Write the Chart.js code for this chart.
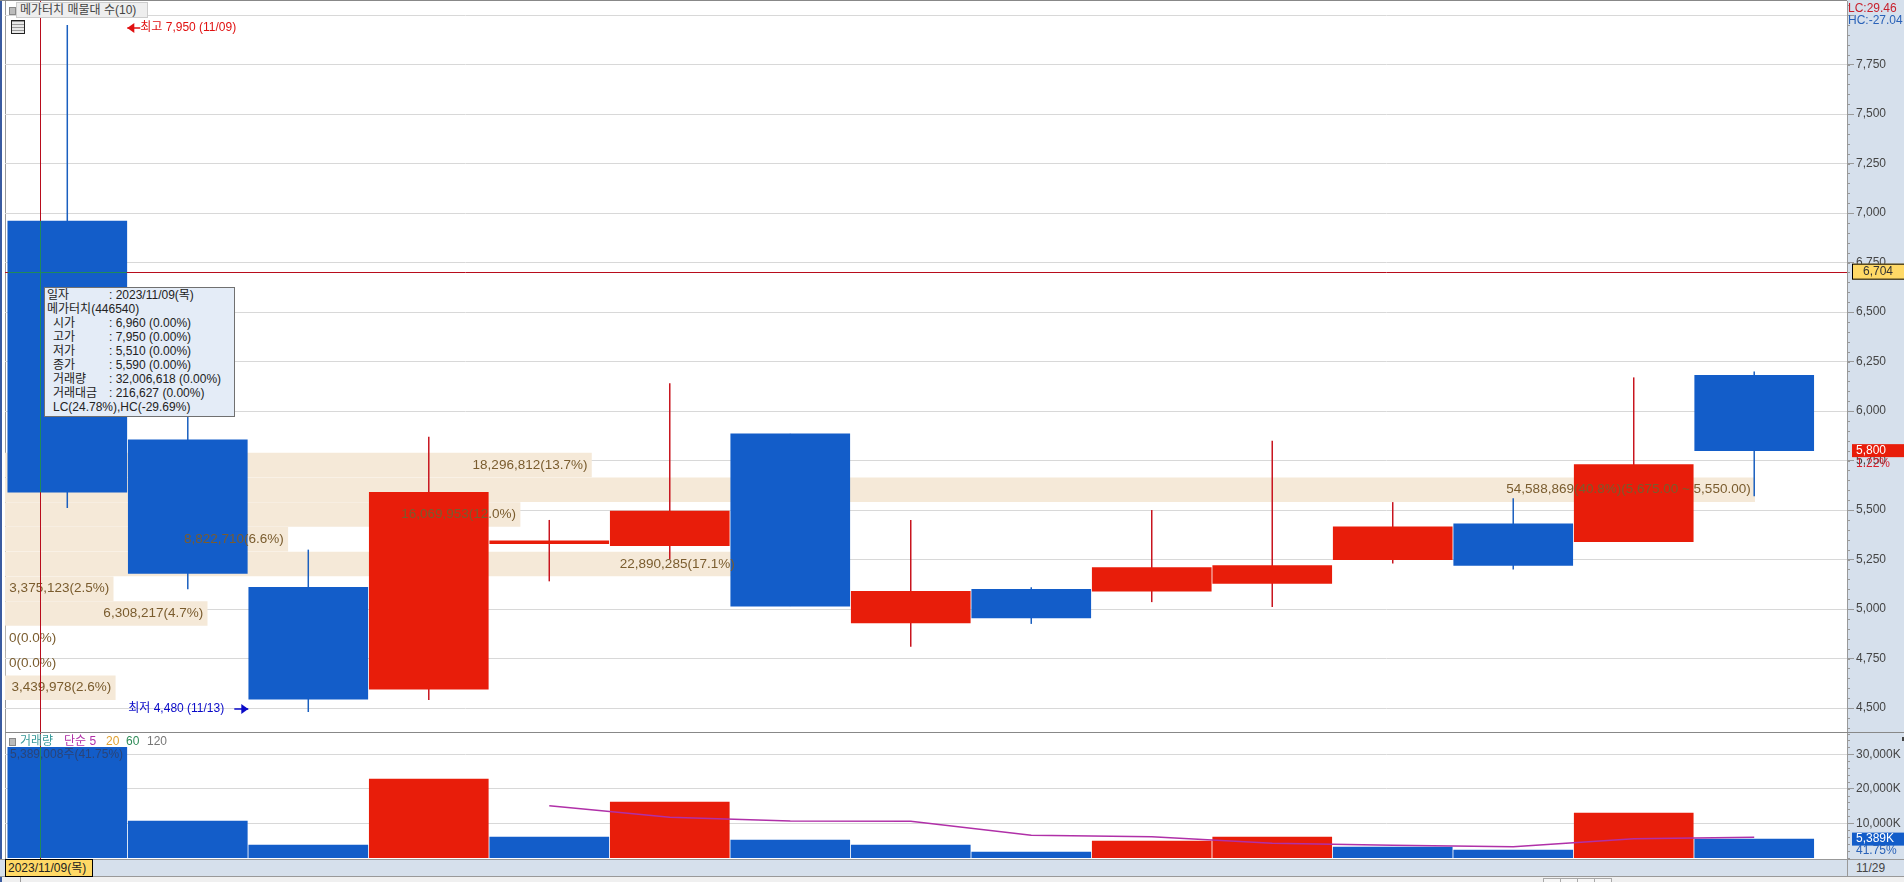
<!DOCTYPE html>
<html lang="ko">
<head>
  <title>메가터치 매물대 수</title>
  <meta charset="utf-8">
  <script src="https://cdn.jsdelivr.net/npm/chart.js"></script>
  <style>
    html, body { margin: 0; padding: 0; background: #f0f0f0; overflow: hidden; }
    body, .t { font: 12px "Liberation Sans", "Noto Sans CJK KR", sans-serif; }
    #page { position: relative; width: 1904px; height: 882px; overflow: hidden; }
    #page div, #page canvas { position: absolute; }
    .t { white-space: nowrap; line-height: 14px; }
    .btn { top: 878px; width: 16px; height: 8px; background: #f6f6f6; border: 1px solid #aaa; }
    #tip { left: 44px; top: 287px; width: 189px; height: 128px; background: #e4ecf7; border: 1px solid #707070; color: #222; }
    #tip .t { position: absolute; left: 2px; }
    #tip span { display: inline-block; width: 62px; }
    #tip .in { left: 8px; }
    #tip .in span { width: 56px; }
  </style>
</head>
<body>
<div id="page">
  <div style="left:0;top:0;width:1904px;height:877px;background:#fff"></div>
  <div style="left:0;top:0;width:2px;height:882px;background:#3a5ba0"></div>
  <div style="left:5px;top:0;width:1px;height:877px;background:#999"></div>
  <div style="left:0;top:0;width:1904px;height:1px;background:#888"></div>
  <div style="left:1847px;top:0;width:57px;height:877px;background:#d6e0ec"></div>
  <div style="left:0;top:859px;width:1904px;height:18px;background:#d6e0ec;border-top:1px solid #999;border-bottom:1px solid #999;box-sizing:border-box"></div>
  <div style="left:1847px;top:859px;width:1px;height:18px;background:#999"></div>
  <div style="left:20px;top:877px;width:1px;height:5px;background:#999"></div>
  <div class="btn" style="left:1543px"></div>
  <div class="btn" style="left:1560px"></div>
  <div class="btn" style="left:1577px"></div>
  <div class="btn" style="left:1594px"></div>

  <canvas id="price-chart" width="1899" height="731" style="left:5px;top:1px"></canvas>
  <canvas id="volume-chart" width="1899" height="126" style="left:5px;top:733px"></canvas>
  <div style="left:5px;top:732px;width:1899px;height:1px;background:#888"></div>

  <div style="left:9px;top:7px;width:5px;height:6px;background:#bbb;border:1px solid #888"></div>
  <div class="t" style="left:16px;top:2px;height:14px;width:130px;background:#eee;border:1px solid #ccc;color:#444;text-indent:3px">메가터치 매물대 수(10)</div>
  <div style="left:11px;top:20px;width:12px;height:12px;border:1px solid #222;background:repeating-linear-gradient(#999 0 1px,#e8e8e8 1px 3px)"></div>

  <div class="t" style="left:1848px;top:1px;color:#c8202c">LC:29.46</div>
  <div class="t" style="left:1848px;top:13px;color:#2a62b8">HC:-27.04</div>

  <div style="left:9px;top:738px;width:5px;height:6px;background:#bbb;border:1px solid #888"></div>
  <div class="t" style="left:20px;top:734px;color:#3a9a9a">거래량</div>
  <div class="t" style="left:64px;top:734px;color:#b030a8">단순 5</div>
  <div class="t" style="left:106px;top:734px;color:#e0a030">20</div>
  <div class="t" style="left:126px;top:734px;color:#2e8b57">60</div>
  <div class="t" style="left:147px;top:734px;color:#777">120</div>
  <div class="t" style="left:10px;top:747px;color:#2a4478">5,389,008주(41.75%)</div>

  <div class="t" style="left:5px;top:859px;width:86px;height:16px;background:#ffd966;border:1px solid #000;line-height:16px;text-indent:2px;color:#222">2023/11/09(목)</div>
  <div class="t" style="left:1856px;top:861px;color:#444">11/29</div>
  <div style="left:1902px;top:737px;width:2px;height:4px;background:#444"></div>

  <div id="tip">
    <div class="t" style="top:0"><span>일자</span>: 2023/11/09(목)</div>
    <div class="t" style="top:14px">메가터치(446540)</div>
    <div class="t in" style="top:28px"><span>시가</span>: 6,960 (0.00%)</div>
    <div class="t in" style="top:42px"><span>고가</span>: 7,950 (0.00%)</div>
    <div class="t in" style="top:56px"><span>저가</span>: 5,510 (0.00%)</div>
    <div class="t in" style="top:70px"><span>종가</span>: 5,590 (0.00%)</div>
    <div class="t in" style="top:84px"><span>거래량</span>: 32,006,618 (0.00%)</div>
    <div class="t in" style="top:98px"><span>거래대금</span>: 216,627 (0.00%)</div>
    <div class="t in" style="top:112px">LC(24.78%),HC(-29.69%)</div>
  </div>
</div>
<script>
  const dates = ['11/09', '11/10', '11/13', '11/14', '11/15', '11/16', '11/17', '11/20', '11/21', '11/22', '11/23', '11/24', '11/27', '11/28', '11/29'];
  const opens = [6960, 5855, 5110, 4595, 5330, 5320, 5885, 4930, 5100, 5090, 5130, 5250, 5430, 5340, 6180];
  const closes = [5590, 5180, 4545, 5590, 5345, 5495, 5015, 5090, 4955, 5210, 5220, 5415, 5220, 5730, 5800];
  const highs = [7950, 6000, 5300, 5870, 5450, 6140, 5885, 5450, 5110, 5500, 5850, 5540, 5560, 6170, 6200];
  const lows = [5510, 5100, 4480, 4540, 5140, 5250, 5015, 4810, 4925, 5035, 5010, 5230, 5200, 5340, 5570];
  const volumes = [32006, 10640, 3680, 22810, 6000, 16145, 5130, 3680, 1650, 4840, 6000, 3100, 2230, 12950, 5389];
  const ma5 = [null, null, null, null, 15030, 11710, 10640, 10550, 6490, 6090, 4170, 3590, 3190, 5500, 5910];

  const bandEdges = [5790, 5665, 5540, 5415, 5290, 5165, 5040, 4915, 4790, 4665, 4540];
  const bandVolumes = [18296812, 54588869, 16069953, 8822710, 22890285, 3375123, 6308217, 0, 0, 3439978];
  const bandPercents = ['13.7', '40.8', '12.0', '6.6', '17.1', '2.5', '4.7', '0.0', '0.0', '2.6'];

  const priceTicks = [8000, 7750, 7500, 7250, 7000, 6750, 6500, 6250, 6000, 5750, 5500, 5250, 5000, 4750, 4500];
  const volumeTicks = [30000, 20000, 10000];
  const crossPrice = 6704;
  const crossIndex = -0.227;

  const RED = '#e81d0a', BLUE = '#135dc9';
  const FONT = '12px "Liberation Sans", "Noto Sans CJK KR", sans-serif';
  const BAND_FONT = '13.5px "Liberation Sans", "Noto Sans CJK KR", sans-serif';
  const indexes = dates.map((d, i) => i);
  const xScale = () => ({ type: 'linear', display: false, offset: false, grid: { offset: false }, min: -0.517, max: 14.77 });

  function axisStyle(ticks, label) {
    return {
      position: 'right',
      offset: false,
      afterFit: (s) => { s.width = 57; s.paddingTop = 0; s.paddingBottom = 0; },
      afterBuildTicks: (s) => { s.ticks = ticks.map(value => ({ value })); },
      border: { color: '#999' },
      grid: { offset: false, color: '#d8d8d8', tickColor: '#999', tickLength: 7 },
      ticks: { autoSkip: false, padding: 2, color: '#444', font: { family: '"Liberation Sans", sans-serif', size: 12 }, callback: label }
    };
  }

  function minorTicks(chart, scale, step) {
    const { ctx } = chart;
    ctx.save();
    ctx.lineWidth = 1;
    ctx.strokeStyle = '#999';
    ctx.beginPath();
    for (let v = Math.ceil(scale.min / step) * step; v <= scale.max; v += step) {
      const y = Math.round(scale.getPixelForValue(v)) + 0.5;
      ctx.moveTo(scale.left, y);
      ctx.lineTo(scale.left + 3, y);
    }
    ctx.stroke();
    ctx.restore();
  }

  function valueTag(ctx, scale, value, text, fill, color, border) {
    const y = scale.getPixelForValue(value);
    const h = border ? 16 : 13;
    ctx.save();
    ctx.lineWidth = 1;
    ctx.fillStyle = fill;
    ctx.fillRect(scale.left + 5, y - h / 2, 52, h);
    if (border) {
      ctx.strokeStyle = border;
      ctx.strokeRect(scale.left + 5.5, y - h / 2 + 0.5, 52, h - 1);
    }
    ctx.fillStyle = color;
    ctx.font = FONT;
    ctx.textBaseline = 'middle';
    ctx.textAlign = border ? 'center' : 'left';
    ctx.fillText(text, border ? scale.left + 31 : scale.left + 9, y);
    ctx.restore();
  }

  // red crosshair, green where it runs over a blue bar
  function crosshair(chart, bar, withLevel) {
    const { ctx, chartArea, scales } = chart;
    const x = Math.round(scales.x.getPixelForValue(crossIndex)) + 0.5;
    const y = withLevel ? Math.round(scales.y.getPixelForValue(crossPrice)) + 0.5 : 0;
    const path = () => {
      ctx.beginPath();
      ctx.moveTo(x, chartArea.top);
      ctx.lineTo(x, chartArea.bottom);
      if (withLevel) {
        ctx.moveTo(chartArea.left, y);
        ctx.lineTo(chartArea.right, y);
      }
    };
    ctx.save();
    ctx.lineWidth = 1;
    ctx.strokeStyle = '#b80c1c';
    path();
    ctx.stroke();
    ctx.beginPath();
    ctx.rect(bar.x - bar.width / 2, Math.min(bar.y, bar.base), bar.width, Math.abs(bar.base - bar.y));
    ctx.clip();
    ctx.strokeStyle = '#1f8a5a';
    path();
    ctx.stroke();
    ctx.restore();
  }

  function arrowLabel(ctx, text, color, textX, y, tipX, tailX) {
    ctx.save();
    ctx.fillStyle = color;
    ctx.strokeStyle = color;
    ctx.font = FONT;
    ctx.textBaseline = 'middle';
    ctx.fillText(text, textX, y);
    ctx.lineWidth = 1.5;
    ctx.beginPath();
    ctx.moveTo(tailX, y);
    ctx.lineTo(tipX, y);
    ctx.stroke();
    const dir = tailX > tipX ? 1 : -1;
    ctx.beginPath();
    ctx.moveTo(tipX, y);
    ctx.lineTo(tipX + dir * 7, y - 5);
    ctx.lineTo(tipX + dir * 7, y + 5);
    ctx.fill();
    ctx.restore();
  }

  const priceOverlay = {
    id: 'priceOverlay',
    afterDraw(chart) {
      const { ctx, scales } = chart;
      ctx.save();
      ctx.font = BAND_FONT;
      ctx.fillStyle = '#7a5c2e';
      ctx.textBaseline = 'middle';
      ctx.textAlign = 'left';
      chart.getDatasetMeta(2).data.forEach((bar, i) => {
        let text = bandVolumes[i].toLocaleString('en-US') + '(' + bandPercents[i] + '%)';
        if (bandVolumes[i] === Math.max(...bandVolumes)) text += '(5,675.00 ~ 5,550.00)';
        const w = ctx.measureText(text).width;
        ctx.fillText(text, Math.max(bar.x - 4 - w, scales.x.left + 4), bar.y);
      });
      ctx.restore();

      const x = (i) => scales.x.getPixelForValue(i);
      arrowLabel(ctx, '최고 7,950 (11/09)', '#e01010', x(0) + 73, 27, x(0) + 60, x(0) + 73);
      arrowLabel(ctx, '최저 4,480 (11/13)', '#0a0ac8', x(2) - 180, 708, x(2) - 60, x(2) - 74);

      crosshair(chart, chart.getDatasetMeta(0).data[0], true);
      minorTicks(chart, scales.y, 50);
      valueTag(ctx, scales.y, crossPrice, '6,704', '#ffd966', '#333', '#000');
      valueTag(ctx, scales.y, closes[closes.length - 1], '5,800', RED, '#fff');
      ctx.save();
      ctx.font = FONT;
      ctx.fillStyle = '#d8202c';
      ctx.textBaseline = 'middle';
      ctx.fillText('1.22%', scales.y.left + 9, scales.y.getPixelForValue(closes[closes.length - 1]) + 13);
      ctx.restore();
    }
  };

  const volumeOverlay = {
    id: 'volumeOverlay',
    afterDraw(chart) {
      const { ctx, scales } = chart;
      crosshair(chart, chart.getDatasetMeta(1).data[0], false);
      minorTicks(chart, scales.y, 2000);
      const last = volumes[volumes.length - 1];
      valueTag(ctx, scales.y, last, '5,389K', BLUE, '#fff');
      ctx.save();
      ctx.font = FONT;
      ctx.fillStyle = '#2a62b8';
      ctx.textBaseline = 'middle';
      ctx.fillText('41.75%', scales.y.left + 9, scales.y.getPixelForValue(last) + 12);
      ctx.restore();
    }
  };

  new Chart(document.getElementById('price-chart'), {
    type: 'bar',
    data: {
      datasets: [{
        label: 'body',
        order: 1,
        grouped: false,
        barThickness: 119,
        borderWidth: 0,
        backgroundColor: opens.map((o, i) => (closes[i] >= o ? RED : BLUE)),
        data: indexes.map(i => ({ x: i, y: [opens[i], closes[i]] }))
      }, {
        label: 'wick',
        order: 2,
        grouped: false,
        barThickness: 1.5,
        inflateAmount: 0,
        borderWidth: 0,
        backgroundColor: opens.map((o, i) => (closes[i] >= o ? '#c8141e' : '#1a5fbf')),
        data: indexes.map(i => ({ x: i, y: [lows[i], highs[i]] }))
      }, {
        label: 'bands',
        order: 3,
        indexAxis: 'y',
        grouped: false,
        xAxisID: 'xVol',
        barThickness: 24,
        borderWidth: 0,
        backgroundColor: '#f5e9d8',
        data: bandVolumes.map((v, i) => ({ x: v, y: (bandEdges[i] + bandEdges[i + 1]) / 2 }))
      }]
    },
    options: {
      responsive: false,
      animation: false,
      events: [],
      layout: { padding: 0 },
      plugins: { legend: { display: false }, tooltip: { enabled: false } },
      scales: {
        x: xScale(),
        xVol: { axis: 'x', type: 'linear', display: false, offset: false, min: 0, max: 57470000 },
        y: Object.assign({ type: 'linear', min: 4379, max: 8071 },
          axisStyle(priceTicks, (v) => (v === 8000 ? '' : v.toLocaleString('en-US'))))
      }
    },
    plugins: [priceOverlay]
  });

  new Chart(document.getElementById('volume-chart'), {
    type: 'bar',
    data: {
      datasets: [{
        type: 'line',
        label: '단순 5',
        order: 1,
        borderColor: '#b030a8',
        borderWidth: 1.5,
        pointRadius: 0,
        tension: 0,
        data: indexes.map(i => ({ x: i, y: ma5[i] }))
      }, {
        label: '거래량',
        order: 2,
        grouped: false,
        barThickness: 119,
        borderWidth: 0,
        backgroundColor: volumes.map((v, i) => (i > 0 && v > volumes[i - 1] ? RED : BLUE)),
        data: indexes.map(i => ({ x: i, y: volumes[i] }))
      }]
    },
    options: {
      responsive: false,
      animation: false,
      events: [],
      layout: { padding: 0 },
      plugins: { legend: { display: false }, tooltip: { enabled: false } },
      scales: {
        x: xScale(),
        y: Object.assign({ type: 'linear', min: -377, max: 36145 },
          axisStyle(volumeTicks, (v) => v.toLocaleString('en-US') + 'K'))
      }
    },
    plugins: [volumeOverlay]
  });
</script>
</body>
</html>
